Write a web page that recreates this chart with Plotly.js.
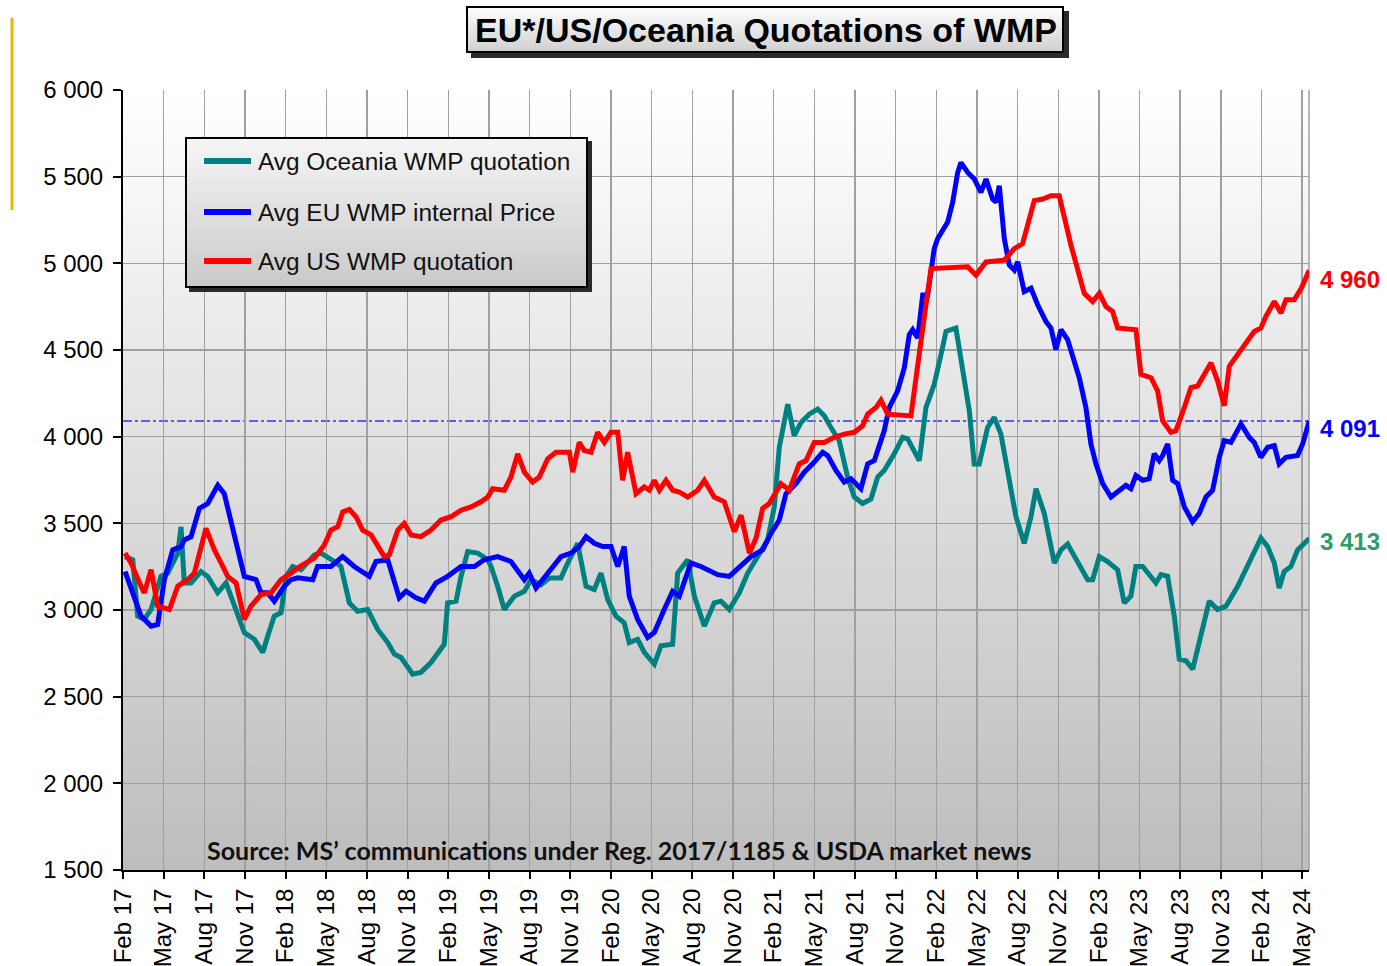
<!DOCTYPE html>
<html>
<head>
<meta charset="utf-8">
<script src="https://cdn.plot.ly/plotly-3.0.1.min.js"></script>
<style>html,body{margin:0;padding:0;background:#fff;}#chart{width:1387px;height:966px;}</style>
</head>
<body>
<div id="chart"></div>
<script>
// x values: months since Feb 2017 (weekly-ish readings)
const tickLabels = ["Feb 17","May 17","Aug 17","Nov 17","Feb 18","May 18","Aug 18","Nov 18","Feb 19","May 19","Aug 19","Nov 19","Feb 20","May 20","Aug 20","Nov 20","Feb 21","May 21","Aug 21","Nov 21","Feb 22","May 22","Aug 22","Nov 22","Feb 23","May 23","Aug 23","Nov 23","Feb 24","May 24"];
const yTickVals = [1500,2000,2500,3000,3500,4000,4500,5000,5500,6000];
const yTickLabels = ["1 500","2 000","2 500","3 000","3 500","4 000","4 500","5 000","5 500","6 000"];

const oceaniaMonths = [0.15,0.72,1.08,1.57,2.07,2.80,3.30,4.04,4.28,4.52,5.02,5.75,6.25,6.99,7.60,8.21,8.95,9.69,10.31,10.68,11.16,11.66,12.03,12.52,13.13,14.11,14.61,15.59,16.08,16.70,17.31,18.05,18.79,19.53,20.02,20.51,21.37,21.98,22.72,23.70,23.95,24.57,24.94,25.43,26.17,26.91,27.15,27.64,28.13,28.87,29.61,30.10,30.84,31.45,32.31,32.81,33.54,34.16,34.77,35.26,35.76,36.37,36.98,37.35,37.97,38.46,39.20,39.69,40.55,40.92,41.66,42.15,42.89,43.62,44.12,44.73,45.47,46.09,46.82,47.56,48.05,48.42,49.04,49.52,50.02,50.63,51.25,51.74,52.23,52.84,53.46,53.95,54.57,55.18,55.68,56.16,56.90,57.52,57.89,58.75,59.24,59.85,60.35,60.72,61.45,61.95,62.44,62.80,63.17,63.79,64.28,64.77,65.27,65.88,66.49,66.99,67.36,67.97,68.71,69.20,69.69,70.43,71.17,71.54,72.03,72.64,73.38,73.87,74.36,74.73,75.23,76.21,76.58,77.07,77.56,77.93,78.42,78.92,79.53,80.14,80.76,81.37,82.24,83.09,83.95,84.45,84.94,85.30,85.67,86.17,86.66,87.52];
const oceaniaPrice = [3308,3290,2965,2946,3003,3194,3213,3328,3480,3156,3156,3222,3194,3099,3156,3022,2870,2831,2755,2850,2965,2984,3194,3251,3232,3318,3328,3280,3251,3041,2993,3003,2888,2812,2745,2726,2630,2640,2697,2802,3041,3051,3194,3337,3328,3290,3251,3137,3003,3080,3108,3175,3146,3184,3184,3271,3385,3137,3118,3213,3060,2965,2926,2812,2831,2755,2688,2793,2802,3213,3290,3080,2907,3041,3051,3003,3099,3213,3308,3404,3595,3939,4187,4006,4082,4130,4159,4120,4053,3977,3767,3652,3614,3640,3767,3805,3901,3996,3987,3862,4168,4302,4474,4607,4627,4397,4149,3843,3843,4053,4111,4015,3805,3538,3385,3538,3700,3557,3271,3347,3380,3271,3175,3175,3308,3280,3232,3041,3080,3251,3251,3156,3204,3194,2965,2716,2707,2659,2850,3051,3003,3022,3137,3271,3414,3366,3271,3127,3222,3251,3347,3413];

const euMonths = [0.15,0.59,1.33,2.07,2.56,3.05,3.67,4.28,4.52,5.02,5.63,6.25,6.99,7.47,8.21,8.95,9.81,10.18,10.68,11.16,11.90,12.39,12.89,14.00,14.36,15.34,16.21,17.06,18.17,18.66,19.53,20.38,20.88,21.62,22.23,23.09,23.95,24.94,25.92,26.65,27.64,28.62,29.61,29.97,30.47,31.45,32.31,33.05,33.66,34.16,34.77,35.39,36.00,36.50,36.98,37.35,37.97,38.71,39.20,39.93,40.55,41.04,41.90,42.64,43.87,44.73,45.22,45.84,46.33,47.19,47.80,48.42,48.91,49.65,50.26,50.88,51.62,51.99,52.60,53.21,53.71,54.44,54.94,55.43,56.16,56.53,57.15,57.64,58.01,58.26,58.63,59.00,59.37,59.85,60.10,60.84,61.21,61.58,61.82,62.32,62.81,63.30,63.67,64.16,64.41,64.65,65.02,65.39,65.76,66.01,66.49,66.99,67.48,68.09,68.46,68.83,69.20,69.69,70.55,71.04,71.41,71.78,72.28,72.89,73.63,73.99,74.36,74.73,75.23,75.71,76.08,76.45,76.70,77.07,77.44,77.81,78.30,78.91,79.40,79.90,80.39,80.88,81.25,81.74,82.48,83.09,83.46,83.95,84.45,84.94,85.30,85.80,86.66,87.03,87.52];
const euPrice = [3222,3118,2965,2907,2917,3175,3347,3366,3404,3423,3586,3614,3719,3671,3423,3194,3175,3099,3099,3051,3137,3175,3186,3175,3251,3251,3308,3251,3194,3280,3290,3070,3108,3070,3051,3156,3194,3251,3251,3290,3308,3280,3175,3213,3127,3222,3308,3328,3366,3423,3385,3366,3366,3251,3366,3080,2946,2841,2870,3003,3108,3080,3271,3251,3204,3194,3232,3271,3308,3347,3442,3519,3671,3729,3795,3843,3910,3891,3805,3738,3757,3700,3843,3862,4034,4168,4264,4397,4588,4617,4569,4818,4818,5085,5142,5238,5352,5524,5581,5524,5486,5410,5486,5371,5352,5448,5142,4990,4961,5009,4837,4856,4761,4665,4627,4502,4617,4560,4340,4168,3958,3843,3729,3652,3700,3719,3700,3776,3748,3757,3901,3862,3891,3958,3748,3729,3595,3509,3557,3652,3691,3881,3977,3967,4073,3996,3967,3881,3939,3948,3843,3881,3891,3958,4091];

const usMonths = [0.15,0.59,1.33,1.57,2.07,2.56,3.42,4.04,4.77,5.26,6.12,6.74,7.36,7.72,8.34,8.95,9.44,10.18,10.92,11.66,12.39,13.13,14.11,14.85,15.34,15.84,16.21,16.70,17.19,17.68,18.30,18.79,19.28,19.65,20.27,20.75,21.25,21.98,22.72,23.46,24.20,24.94,25.67,26.41,26.91,27.27,28.13,28.62,29.12,29.61,30.22,30.71,31.33,31.94,32.93,33.18,33.66,34.03,34.53,35.02,35.51,36.00,36.50,36.86,37.23,37.85,38.46,38.83,39.20,39.57,40.06,40.55,41.04,41.66,42.40,42.89,43.62,44.36,45.10,45.60,46.21,46.70,47.19,47.68,48.54,49.16,49.89,50.39,51.00,51.74,52.47,53.21,53.95,54.57,54.94,55.55,55.92,56.41,58.13,58.87,59.61,62.32,62.93,63.67,65.02,65.76,66.37,67.23,67.85,68.46,69.07,69.94,70.92,71.54,72.03,72.52,73.01,73.38,74.73,75.10,75.84,76.33,76.70,77.31,77.68,78.30,78.79,79.28,79.77,80.27,80.76,81.25,81.62,82.24,82.97,83.46,83.95,84.32,84.94,85.43,85.80,86.41,86.93,87.52];
const usPrice = [3328,3271,3137,3099,3232,3022,3003,3137,3175,3213,3471,3347,3251,3194,3156,2946,3022,3089,3099,3175,3213,3255,3299,3375,3461,3480,3566,3580,3538,3461,3433,3366,3308,3318,3461,3500,3433,3423,3461,3519,3538,3576,3595,3624,3652,3700,3691,3767,3901,3795,3738,3767,3872,3910,3910,3795,3967,3920,3910,4025,3967,4025,4025,3748,3910,3671,3710,3691,3748,3691,3748,3691,3681,3652,3691,3748,3652,3624,3452,3547,3328,3414,3586,3614,3729,3691,3843,3862,3967,3967,3996,4015,4025,4063,4130,4168,4210,4130,4120,4550,4970,4980,4932,5008,5018,5085,5114,5362,5371,5390,5390,5104,4827,4780,4827,4751,4722,4627,4617,4359,4340,4264,4092,4025,4034,4168,4283,4292,4359,4426,4321,4178,4407,4474,4550,4607,4627,4694,4780,4713,4790,4790,4856,4960];

const seriesNames = ["Avg Oceania WMP quotation","Avg EU WMP internal Price","Avg US WMP quotation"];
const seriesColors = ["#008080","#0000ff","#ff0000"];
const labelColors = ["#2e9b6c","#0000ff","#ff0000"];

// ---- layout helpers (pixel -> paper) ----
const W = 1387, H = 966, L = 123, R = 1309, T = 90, B = 870;
const px = x => (x - L) / (R - L);
const py = y => (B - y) / (B - T);
const fmt = v => String(v).replace(/\B(?=(\d{3})+(?!\d))/g, ' ');

function gradSvg(w, h, top, bottom, shadow, border) {
  let s = `<svg xmlns="http://www.w3.org/2000/svg" width="${w + shadow}" height="${h + shadow}" viewBox="0 0 ${w + shadow} ${h + shadow}" preserveAspectRatio="none">` +
    `<defs><linearGradient id="g" x1="0" y1="0" x2="0" y2="1"><stop offset="0" stop-color="${top}"/><stop offset="1" stop-color="${bottom}"/></linearGradient></defs>`;
  if (shadow) s += `<rect x="${shadow}" y="${shadow}" width="${w}" height="${h}" fill="#2a2a2a"/>`;
  s += border ? `<rect x="1" y="1" width="${w - 2}" height="${h - 2}" fill="url(#g)" stroke="#000" stroke-width="2"/>`
              : `<rect x="0" y="0" width="${w}" height="${h}" fill="url(#g)"/>`;
  s += `</svg>`;
  return 'data:image/svg+xml;charset=utf-8,' + encodeURIComponent(s);
}
function boxImage(x, y, w, h, shadow, top, bottom) {
  return {source: gradSvg(w, h, top, bottom, shadow, true), xref: 'paper', yref: 'paper',
    x: px(x), y: py(y), sizex: (w + shadow) / (R - L), sizey: (h + shadow) / (B - T),
    xanchor: 'left', yanchor: 'top', sizing: 'stretch', layer: 'above'};
}

const xs = [oceaniaMonths, euMonths, usMonths];
const ys = [oceaniaPrice, euPrice, usPrice];
const traces = xs.map((x, i) => ({
  type: 'scatter', mode: 'lines', x: x, y: ys[i], name: seriesNames[i],
  line: {color: seriesColors[i], width: 5}, hoverinfo: 'skip', showlegend: false
}));

const lastEU = euPrice[euPrice.length - 1];
const legendRows = [161, 212, 261];
const endLabelShift = [-3, -8, -9];

const shapes = [
  {type: 'line', xref: 'paper', yref: 'y', x0: 0, x1: 1, y0: lastEU, y1: lastEU, layer: 'between',
   line: {color: '#3030ff', width: 1.5, dash: 'dashdot'}},
  {type: 'line', xref: 'paper', yref: 'paper', x0: 1, x1: 1, y0: 0, y1: 1, layer: 'between',
   line: {color: '#a0a0a0', width: 1.5}},
  {type: 'line', xref: 'paper', yref: 'paper', x0: px(12), x1: px(12), y0: py(18), y1: py(210),
   line: {color: '#f2b400', width: 3}}
];
legendRows.forEach((yy, i) => shapes.push({type: 'line', xref: 'paper', yref: 'paper', layer: 'above',
  x0: px(204), x1: px(251), y0: py(yy), y1: py(yy), line: {color: seriesColors[i], width: 6}}));

const annotations = [];
legendRows.forEach((yy, i) => annotations.push({xref: 'paper', yref: 'paper', x: px(256), y: py(yy),
  xanchor: 'left', yanchor: 'middle', showarrow: false, text: seriesNames[i],
  font: {size: 24.4, color: '#111', family: 'Liberation Sans, Arial, sans-serif'}}));
ys.forEach((arr, i) => {
  const v = arr[arr.length - 1];
  annotations.push({xref: 'paper', yref: 'y', x: px(1318), y: v, yshift: endLabelShift[i], xanchor: 'left', yanchor: 'middle',
    showarrow: false, text: '<b>' + fmt(v) + '</b>', font: {size: 24, color: labelColors[i], family: 'Liberation Sans, Arial, sans-serif'}});
});
annotations.push({xref: 'paper', yref: 'paper', x: px(205), y: py(850), xanchor: 'left', yanchor: 'middle', showarrow: false,
  text: '<b>Source: MS\u2019 communications under Reg. 2017/1185 &amp; USDA market news</b>',
  font: {size: 25, color: '#111', family: 'Lato, Open Sans, sans-serif'}});

const images = [
  {source: gradSvg(100, 100, '#ffffff', '#bdbdbd', 0, false), xref: 'paper', yref: 'paper', x: 0, y: 1,
   sizex: 1, sizey: 1, xanchor: 'left', yanchor: 'top', sizing: 'stretch', layer: 'below'},
  boxImage(185, 137, 403, 151, 4, '#f6f6f6', '#c9c9c9'),
  boxImage(466, 6, 598, 47, 5, '#ffffff', '#cfcfcf')
];

const layout = {
  width: W, height: H,
  margin: {l: L, r: W - R, t: T, b: H - B, pad: 0},
  paper_bgcolor: '#ffffff', plot_bgcolor: '#ffffff',
  showlegend: false, hovermode: false,
  font: {family: 'Liberation Sans, Arial, sans-serif', size: 24, color: '#000'},
  title: {text: '<b>EU*/US/Oceania Quotations of WMP</b>', x: 766 / W, xanchor: 'center', y: 1 - 30 / H, yanchor: 'middle',
    font: {size: 34, color: '#000', family: 'Liberation Sans, Arial, sans-serif'}},
  xaxis: {range: [-0.001, 87.5], tickmode: 'array', tickvals: tickLabels.map((_, i) => i * 3), ticktext: tickLabels,
    tickangle: -90, showgrid: true, gridcolor: '#a0a0a0', gridwidth: 1.5, zeroline: false,
    showline: true, linecolor: '#000', linewidth: 2, ticks: 'outside', ticklen: 7, tickwidth: 2, tickcolor: '#000',
    tickfont: {size: 24, color: '#000'}, fixedrange: true},
  yaxis: {range: [1500, 6000], tickmode: 'array', tickvals: yTickVals, ticktext: yTickLabels,
    showgrid: true, gridcolor: '#a0a0a0', gridwidth: 1.5, zeroline: false,
    showline: true, linecolor: '#000', linewidth: 2, ticks: 'outside', ticklen: 8, tickwidth: 2, tickcolor: '#000',
    tickfont: {size: 24, color: '#000'}, ticklabelstandoff: 5, fixedrange: true},
  shapes: shapes, annotations: annotations, images: images
};

Plotly.newPlot('chart', traces, layout, {displayModeBar: false, staticPlot: true});
</script>
</body>
</html>
